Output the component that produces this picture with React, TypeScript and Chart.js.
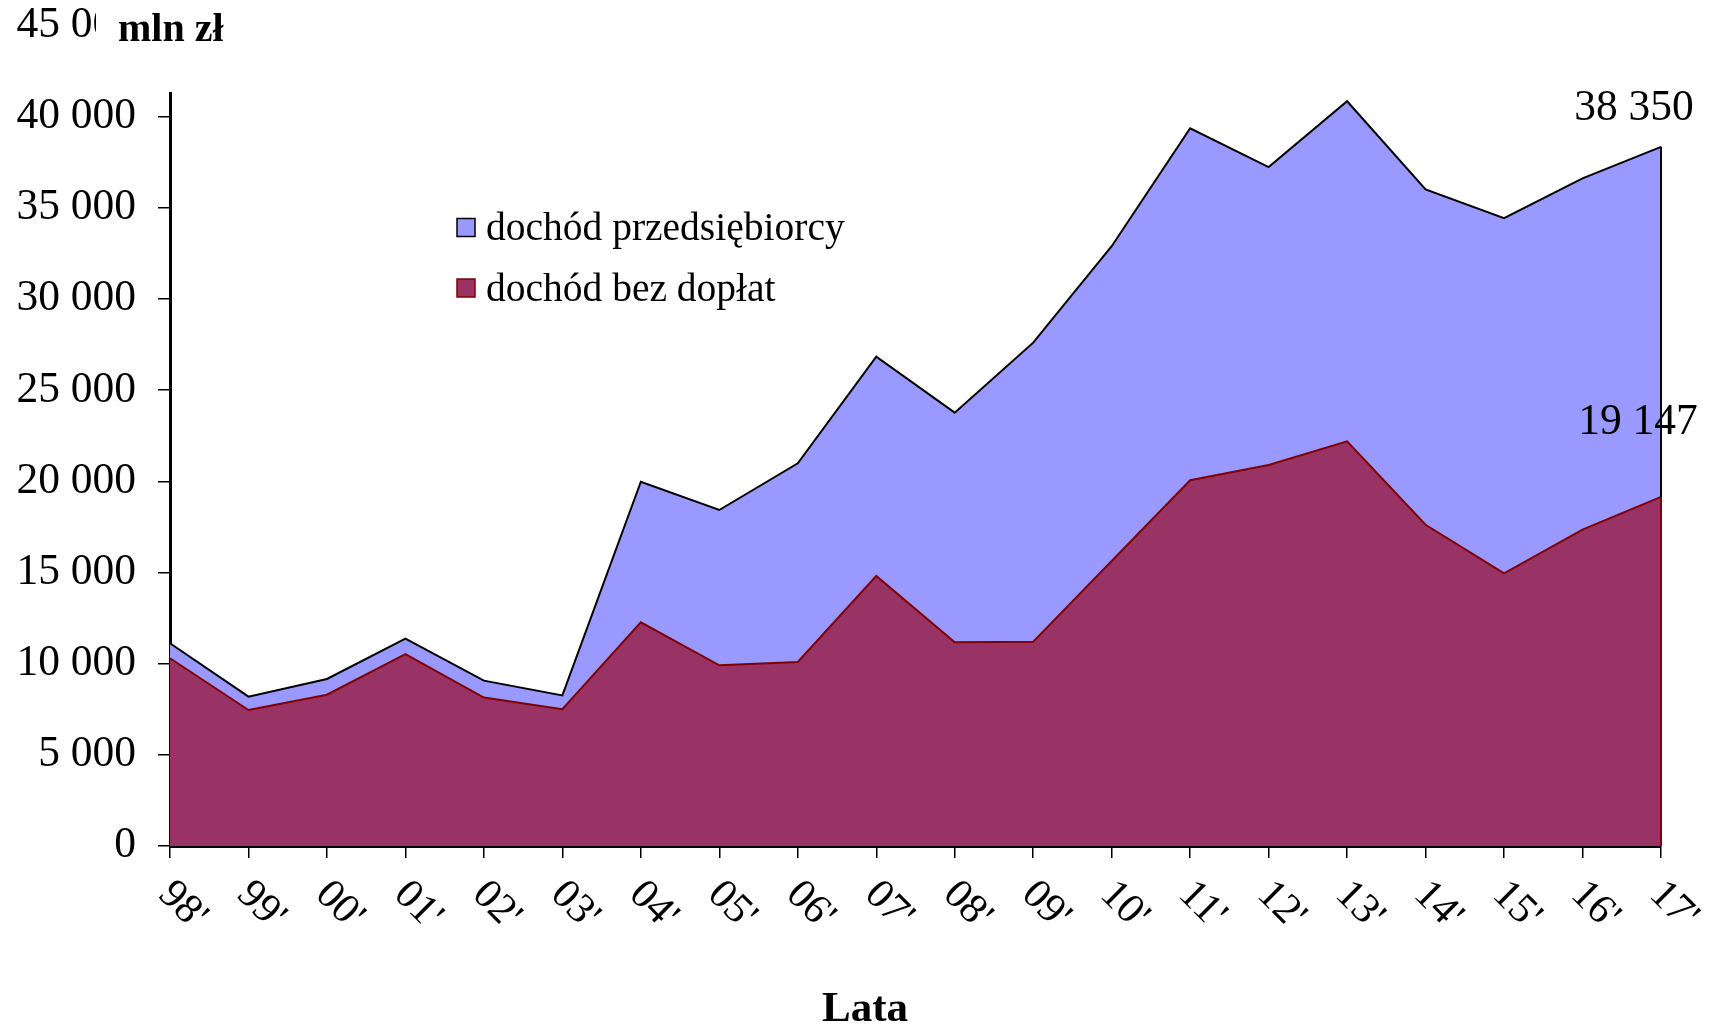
import React, { useEffect, useRef } from "react";
import { Chart, registerables } from "chart.js";

Chart.register(...registerables);

// ---- data ----
const years = ["98'", "99'", "00'", "01'", "02'", "03'", "04'", "05'", "06'", "07'", "08'", "09'", "10'", "11'", "12'", "13'", "14'", "15'", "16'", "17'"];
const dochodPrzedsiebiorcy = [11120, 8190, 9160, 11370, 9070, 8260, 19980, 18430, 20990, 26840, 23770, 27610, 32900, 39370, 37240, 40850, 36020, 34440, 36620, 38350];
const dochodBezDoplat = [10300, 7460, 8300, 10530, 8140, 7500, 12270, 9910, 10090, 14810, 11180, 11200, 15630, 20060, 20900, 22200, 17620, 14960, 17350, 19147];
const seriesNames = ["dochód przedsiębiorcy", "dochód bez dopłat"];
const yMin = 0;
const yMax = 45000;
const yStep = 5000;
const unitLabel = "mln zł";
const xTitle = "Lata";

const BLUE = "#9999FF";
const PLUM = "#993366";
const DARKRED = "#800000";
const SERIF = '"Liberation Serif", "Times New Roman", serif';

const fmt = (v: number) => String(Math.round(v)).replace(/\B(?=(\d{3})+(?!\d))/g, " ");

const overlay = {
  id: "overlay",
  afterDatasetsDraw(chart: any) {
    const ctx = chart.ctx;
    const ys = chart.scales.y;
    const zero = ys.getPixelForValue(0);
    [0, 1].forEach((di) => {
      const meta = chart.getDatasetMeta(di);
      const pts = meta.data;
      const last = pts[pts.length - 1];
      const ds = chart.data.datasets[di];
      ctx.save();
      ctx.strokeStyle = ds.borderColor;
      ctx.lineWidth = 2;
      ctx.beginPath();
      ctx.moveTo(last.x, last.y);
      ctx.lineTo(last.x, zero);
      ctx.stroke();
      ctx.restore();
    });
  },
  afterDraw(chart: any) {
    const ctx = chart.ctx;
    const xs = chart.scales.x;
    ctx.save();
    ctx.fillStyle = "#000";
    // rotated category labels
    ctx.font = `42px ${SERIF}`;
    ctx.textAlign = "left";
    ctx.textBaseline = "alphabetic";
    years.forEach((lab, i) => {
      const px = xs.getPixelForValue(i);
      ctx.save();
      ctx.translate(px - 13, xs.top + 50);
      ctx.rotate(Math.PI / 4);
      ctx.fillText(lab, 0, 0);
      ctx.restore();
    });
    // x title
    ctx.font = `bold 43px ${SERIF}`;
    ctx.textAlign = "center";
    ctx.fillText(xTitle, 865, 1021);

    // unit label box over top of y axis
    ctx.fillStyle = "#fff";
    ctx.fillRect(96, 0, 145, 92);
    ctx.fillStyle = "#000";
    ctx.font = `bold 40px ${SERIF}`;
    ctx.textAlign = "left";
    ctx.fillText(unitLabel, 118, 41);

    // legend
    const boxes = [
      { y: 218.5, fill: BLUE, stroke: "#000" },
      { y: 279, fill: PLUM, stroke: DARKRED },
    ];
    boxes.forEach((b, i) => {
      ctx.fillStyle = b.fill;
      ctx.fillRect(457, b.y, 18, 18);
      ctx.strokeStyle = b.stroke;
      ctx.lineWidth = 1.5;
      ctx.strokeRect(457, b.y, 18, 18);
      ctx.fillStyle = "#000";
      ctx.font = `39.5px ${SERIF}`;
      ctx.textAlign = "left";
      ctx.fillText(seriesNames[i], 486, b.y + 21.5);
    });

    // end value labels
    ctx.font = `43.5px ${SERIF}`;
    ctx.textAlign = "center";
    const m0 = chart.getDatasetMeta(0).data;
    const m1 = chart.getDatasetMeta(1).data;
    const p0 = m0[m0.length - 1];
    const p1 = m1[m1.length - 1];
    ctx.fillText(fmt(dochodPrzedsiebiorcy[dochodPrzedsiebiorcy.length - 1]), p0.x - 27, p0.y - 27);
    ctx.fillText(fmt(dochodBezDoplat[dochodBezDoplat.length - 1]), p1.x - 23, p1.y - 63);
    ctx.restore();
  },
};

export default function App() {
  const ref = useRef<HTMLCanvasElement | null>(null);
  useEffect(() => {
    document.body.style.margin = "0";
    const canvas = ref.current!;
    const chart = new Chart(canvas, {
      type: "line",
      data: {
        labels: years,
        datasets: [
          {
            label: seriesNames[0],
            data: dochodPrzedsiebiorcy,
            backgroundColor: BLUE,
            borderColor: "#000",
            borderWidth: 2,
            fill: "origin",
            pointRadius: 0,
            tension: 0,
            order: 1,
          },
          {
            label: seriesNames[1],
            data: dochodBezDoplat,
            backgroundColor: PLUM,
            borderColor: DARKRED,
            borderWidth: 2,
            fill: "origin",
            pointRadius: 0,
            tension: 0,
            order: 0,
          },
        ],
      },
      options: {
        responsive: false,
        animation: false,
        devicePixelRatio: 1,
        layout: { padding: { left: 0, top: 0, right: 54, bottom: 0 } },
        plugins: {
          legend: { display: false },
          tooltip: { enabled: false },
          title: { display: false },
        },
        scales: {
          x: {
            type: "category",
            offset: false,
            grid: {
              display: true,
              drawOnChartArea: false,
              drawTicks: true,
              tickLength: 12,
              color: "#000",
              lineWidth: 1.5,
            },
            border: { display: true, color: "#000", width: 3 },
            ticks: { display: false },
            afterFit: (s: any) => {
              s.height = 182;
            },
          },
          y: {
            min: yMin,
            max: yMax,
            grid: {
              display: true,
              drawOnChartArea: false,
              drawTicks: true,
              tickLength: 12,
              color: "#000",
              lineWidth: 1.5,
            },
            border: { display: true, color: "#000", width: 3 },
            ticks: {
              stepSize: yStep,
              color: "#000",
              padding: 22,
              font: { family: SERIF, size: 43.5 },
              callback: (v: any) => fmt(Number(v)),
            },
            afterFit: (s: any) => {
              s.width = 170;
              s.paddingTop = 25.6;
              s.paddingBottom = 0;
            },
          },
        },
      },
      plugins: [overlay],
    } as any);
    return () => chart.destroy();
  }, []);
  return (
    <div style={{ width: 1715, height: 1028 }}>
      <canvas ref={ref} width={1715} height={1028} style={{ display: "block" }} />
    </div>
  );
}
